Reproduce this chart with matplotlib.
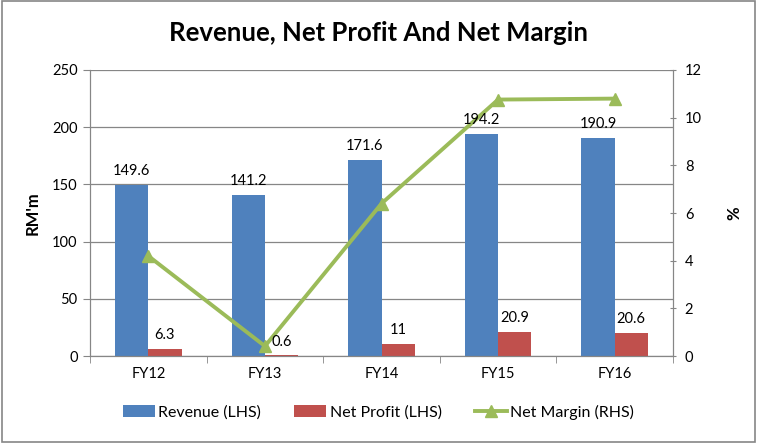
import numpy as np
import matplotlib.pyplot as plt
from matplotlib.patches import Rectangle

plt.rcParams['font.family'] = ['Lato', 'DejaVu Sans']

years = ['FY12', 'FY13', 'FY14', 'FY15', 'FY16']
revenue = [149.6, 141.2, 171.6, 194.2, 190.9]
net_profit = [6.3, 0.6, 11, 20.9, 20.6]
net_margin = [4.2, 0.42, 6.4, 10.76, 10.8]

blue = '#4F81BD'
red = '#C0504D'
green = '#9BBB59'

fig = plt.figure(figsize=(7.57, 4.43), dpi=100)
ax = fig.add_axes([0.119, 0.196, 0.770, 0.646])
ax2 = ax.twinx()

x = np.arange(len(years))
w = 0.285
ax.bar(x - w / 2, revenue, w, color=blue, label='Revenue (LHS)', zorder=2)
ax.bar(x + w / 2, net_profit, w, color=red, label='Net Profit (LHS)', zorder=2)

ax2.plot(x, net_margin, color=green, lw=2.8, marker='^', ms=8.5, label='Net Margin (RHS)', zorder=3)

# data labels drawn above the line, like the original
for i in range(len(years)):
    ax2.text(x[i] - w / 2, revenue[i] + 6, '%g' % revenue[i], ha='center', va='bottom',
             fontsize=10.5, transform=ax.transData, zorder=5)
    ax2.text(x[i] + w / 2, net_profit[i] + 6, '%g' % net_profit[i], ha='center', va='bottom',
             fontsize=10.5, transform=ax.transData, zorder=5)

ax.set_xlim(-0.5, len(years) - 0.5)
ax.set_ylim(0, 250)
ax.set_yticks(np.arange(0, 251, 50))
ax2.set_ylim(0, 12)
ax2.set_yticks(np.arange(0, 13, 2))
ax.set_xticks(x)
ax.set_xticklabels(years)
ax.set_xticks(np.arange(-0.5, len(years), 1), minor=True)
ax.tick_params(axis='x', which='major', length=0, pad=8, labelsize=10.5)
ax.tick_params(axis='x', which='minor', length=5, color='#868686')
ax.tick_params(axis='y', length=5, color='#868686', labelsize=10.5, pad=4)
ax2.tick_params(axis='y', length=5, color='#868686', labelsize=10.5, pad=6, direction='inout')

ax.yaxis.grid(True, color='#868686', lw=0.9, zorder=0)
ax.set_axisbelow(True)
for a in (ax, ax2):
    a.spines['top'].set_visible(False)
    for s in ('left', 'right', 'bottom'):
        a.spines[s].set_color('#868686')

ax.set_ylabel("RM'm", fontsize=12, fontweight='bold', labelpad=8)
ax2.set_ylabel('%', fontsize=12, fontweight='bold', labelpad=18)

fig.text(0.5, 0.925, 'Revenue, Net Profit And Net Margin', ha='center', va='center',
         fontsize=18.5, fontweight='bold')

h1, l1 = ax.get_legend_handles_labels()
h2, l2 = ax2.get_legend_handles_labels()
fig.legend(h1 + h2, l1 + l2, loc='center', bbox_to_anchor=(0.5, 0.07), ncol=3,
           frameon=False, fontsize=11.5, handlelength=2.0, columnspacing=2.1, handletextpad=0.2)

fig.patches.append(Rectangle((0.002, 0.003), 0.995, 0.994, transform=fig.transFigure,
                             fill=False, edgecolor='#868686', lw=1.2))

fig.savefig('out.png', dpi=100)
